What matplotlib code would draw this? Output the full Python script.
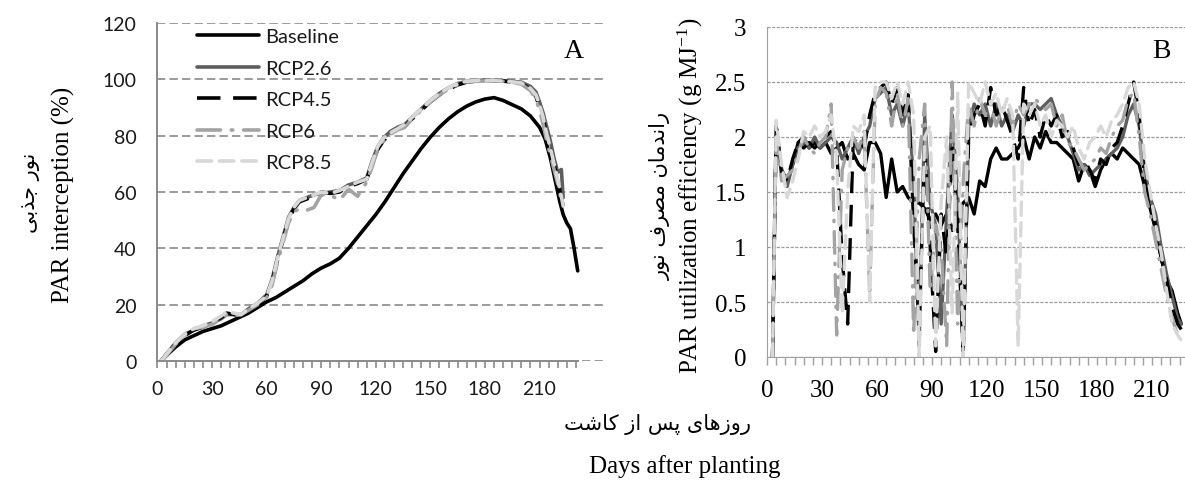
import matplotlib
matplotlib.use('Agg')
import matplotlib.pyplot as plt
from matplotlib.ticker import MultipleLocator, FixedLocator, FuncFormatter

# ---- datos panel A (intercepcion PAR, %) ----
dias_base_a = [2, 5, 10, 15, 20, 25, 30, 35, 40, 45, 50, 55, 60, 65, 70, 75, 80, 85, 90, 95,
               100, 105, 110, 115, 120, 125, 130, 135, 140, 145, 150, 155, 160, 165, 170, 175,
               180, 185, 190, 195, 200, 205, 210, 213, 216, 219, 221, 223, 225, 227, 229, 231]
base_a = [0, 2, 5, 7.5, 9, 10.5, 11.5, 12.5, 14, 15.5, 17, 19, 21, 22.5, 24.5, 26.5, 28.5, 31, 33, 34.5,
          36.5, 40, 44, 48, 52, 56.5, 61.5, 66.5, 71, 75.5, 79.5, 83, 86, 88.5, 90.5, 92,
          93, 93.5, 92.5, 91, 89.5, 87, 83, 79, 72, 63, 57, 52, 49, 47, 40, 32]

dias_rcp_a = [2, 5, 10, 15, 20, 25, 30, 35, 38, 42,
              46, 50, 55, 60, 63, 66, 69, 72, 75, 78,
              82, 86, 90, 95, 100, 105, 110, 115, 118, 121,
              124, 128, 132, 136, 140, 145, 150, 155, 160, 165,
              170, 175, 180, 185, 190, 195, 200, 205, 208, 210,
              212, 214, 216, 218, 220, 222, 223]
rcp26_a = [0, 2.5, 6.5, 9.5, 11, 12.5, 13.5, 15, 16.5, 16.5,
           16.5, 18.5, 20.5, 23.5, 29, 37, 44, 51, 54.5, 57,
           58, 59, 59.5, 60, 60.5, 62.5, 63.5, 65, 71, 76,
           79, 81.5, 83, 84, 86.5, 89.5, 92.5, 95, 97, 98.5,
           99.3, 99.6, 99.7, 99.6, 99.5, 99.3, 99, 97.5, 95.5, 92,
           88, 83, 78, 72, 67, 68, 58]
rcp45_a = [0, 2.5, 6, 9, 11, 12, 13.5, 15.5, 17, 16.5,
           16, 18, 20, 23, 28, 36, 43, 50, 54, 56.5,
           57.5, 58.5, 60, 59.5, 60, 62, 63, 64.5, 70, 75,
           78, 81, 82.5, 83.5, 86, 89, 92, 94.5, 96.5, 98,
           99, 99.4, 99.5, 99.5, 99.4, 99, 98.5, 96.5, 94, 90,
           86, 80, 75, 70, 64, 58, 55]
rcp6_a = [0, 2, 6, 9, 11.5, 12, 13, 15, 16.5, 16,
          16.5, 18, 20, 22.5, 27, 35, 42, 49, 53, 54,
          53.5, 54.5, 59, 59, 57, 61, 58.5, 63.5, 69, 75,
          78, 80.5, 82, 83, 86, 89, 92, 94.5, 96.5, 98,
          99, 99.3, 99.4, 99.4, 99.3, 99, 98.3, 96, 93, 89,
          84, 78, 73, 68, 63, 57, 55]
rcp85_a = [0, 2.5, 6.5, 9.5, 11.5, 12.5, 14, 16, 17.5, 17,
           16.5, 18.5, 20.5, 23, 28.5, 36.5, 43.5, 50.5, 54.5, 57,
           58, 59, 60, 59.5, 60.5, 62, 63.5, 64.5, 70.5, 76,
           79, 81, 82.5, 84, 86.5, 89.5, 92.5, 95, 97, 98.5,
           99.3, 99.6, 99.6, 99.5, 99.4, 99.1, 98.7, 96.8, 94.5, 91,
           86.5, 80.5, 75.5, 70, 64.5, 58.5, 55]

# ---- datos panel B (eficiencia de uso PAR, g MJ-1) ----
dias_b = [3, 5, 8, 11, 14, 17, 20, 23, 26, 29,
          32, 35, 38, 41, 44, 47, 50, 53, 56, 59,
          62, 65, 68, 71, 74, 77, 80, 83, 86, 89,
          92, 95, 98, 101, 104, 107, 110, 113, 116, 119,
          122, 125, 128, 131, 134, 137, 140, 143, 146, 149,
          152, 155, 158, 161, 164, 167, 170, 173, 176, 179,
          182, 185, 188, 191, 194, 197, 200, 203, 206, 209,
          212, 215, 218, 221, 224, 226]
base_b = [0, 2.1, 1.7, 1.6, 1.75, 1.95, 2.0, 1.9, 1.95, 1.9,
          1.95, 1.85, 1.9, 1.95, 1.8, 1.85, 1.75, 1.7, 1.95, 1.95,
          1.85, 1.45, 1.8, 1.5, 1.55, 1.45, 1.4, 1.4, 1.35, 1.25,
          1.3, 1.2, 1.3, 1.15, 1.3, 1.4, 1.45, 1.3, 1.6, 1.55,
          1.8, 1.9, 1.8, 1.8, 1.85, 1.9, 2.0, 1.8, 2.0, 1.9,
          2.05, 1.95, 1.95, 1.9, 1.85, 1.8, 1.6, 1.75, 1.7, 1.55,
          1.7, 1.8, 1.85, 1.8, 1.9, 1.85, 1.8, 1.75, 1.55, 1.35,
          1.15, 0.9, 0.7, 0.6, 0.4, 0.3]
rcp26_b = [0, 2.05, 1.7, 1.55, 1.75, 1.9, 1.95, 1.9, 2.0, 1.9,
           1.95, 2.0, 1.95, 1.8, 1.9, 2.0, 1.85, 2.0, 2.1, 2.35,
           2.4, 2.45, 2.2, 2.3, 2.1, 2.3, 1.6, 0.1, 2.2, 1.4,
           1.2, 0.3, 1.3, 2.2, 1.5, 0.0, 2.1, 2.3, 2.2, 2.3,
           2.1, 2.3, 2.1, 2.2, 2.05, 2.2, 2.1, 2.3, 2.3, 2.25,
           2.3, 2.35, 2.2, 2.1, 2.0, 1.85, 1.7, 1.75, 1.65, 1.7,
           1.75, 1.8, 1.85, 1.9, 2.0, 2.2, 2.3, 2.1, 1.7, 1.45,
           1.3, 1.0, 0.75, 0.55, 0.35, 0.3]
rcp45_b = [0, 2.1, 1.65, 1.6, 1.8, 1.95, 1.9, 1.95, 1.9, 1.95,
           2.0, 2.05, 1.9, 0.9, 0.3, 1.95, 2.0, 1.9, 2.2, 2.4,
           2.45, 2.5, 2.3, 2.45, 2.2, 2.4, 1.2, 0.3, 1.9, 1.0,
           0.05, 1.3, 0.9, 1.9, 1.2, 0.05, 2.0, 2.2, 2.3, 2.1,
           2.45, 2.2, 2.3, 2.15, 2.0, 1.8, 2.45, 2.1, 2.25, 2.0,
           2.2, 2.1, 2.2, 2.0, 2.05, 1.9, 1.75, 1.8, 1.7, 1.6,
           1.8, 1.75, 1.9, 1.95, 2.1, 2.3, 2.5, 2.2, 1.6, 1.4,
           1.2, 0.9, 0.7, 0.45, 0.3, 0.25]
rcp6_b = [0, 2.0, 1.6, 1.65, 1.7, 1.85, 2.0, 1.9, 1.85, 1.95,
          2.0, 2.3, 0.2, 1.7, 1.9, 2.0, 1.9, 2.05, 0.6, 2.3,
          2.45, 2.4, 2.1, 2.4, 2.1, 2.35, 0.2, 1.8, 2.3, 0.6,
          1.2, 1.0, 0.1, 2.5, 0.3, 1.6, 2.3, 2.1, 2.35, 2.2,
          2.3, 2.1, 2.25, 2.3, 2.1, 2.3, 2.2, 2.3, 2.35, 2.3,
          2.25, 2.3, 2.1, 2.2, 1.95, 1.9, 1.8, 1.7, 1.75, 1.8,
          1.9, 1.85, 2.0, 2.1, 2.15, 2.35, 2.4, 2.0, 1.5, 1.3,
          1.05, 0.8, 0.55, 0.35, 0.2, 0.2]
rcp85_b = [0, 2.15, 1.75, 1.45, 1.6, 1.8, 2.05, 2.0, 2.1, 2.0,
           2.05, 2.2, 1.8, 0.4, 1.5, 2.1, 2.05, 2.2, 0.5, 2.45,
           2.5, 2.5, 2.35, 2.5, 2.3, 2.5, 2.2, 0.0, 2.0, 2.1,
           0.1, 1.4, 2.0, 0.4, 2.4, 0.0, 2.5, 2.4, 2.3, 2.5,
           2.3, 2.4, 2.2, 2.35, 2.2, 0.1, 2.3, 2.2, 2.3, 2.1,
           2.2, 2.0, 2.15, 2.1, 2.0, 2.1, 1.9, 1.8, 1.95, 2.0,
           2.1, 2.0, 2.15, 2.2, 2.3, 2.45, 2.5, 2.3, 1.8, 1.5,
           1.2, 0.95, 0.6, 0.3, 0.2, 0.15]

etiquetas = ['Baseline', 'RCP2.6', 'RCP4.5', 'RCP6', 'RCP8.5']
ticks_a = [0, 30, 60, 90, 120, 150, 180, 210]

# ---- textos persas: formas de presentacion + orden visual ----
FORMAS = {
    'ا': ('\uFE8D', '\uFE8E', None, None),
    'ب': ('\uFE8F', '\uFE90', '\uFE91', '\uFE92'),
    'ت': ('\uFE95', '\uFE96', '\uFE97', '\uFE98'),
    'ج': ('\uFE9D', '\uFE9E', '\uFE9F', '\uFEA0'),
    'د': ('\uFEA9', '\uFEAA', None, None),
    'ذ': ('\uFEAB', '\uFEAC', None, None),
    'ر': ('\uFEAD', '\uFEAE', None, None),
    'ز': ('\uFEAF', '\uFEB0', None, None),
    'س': ('\uFEB1', '\uFEB2', '\uFEB3', '\uFEB4'),
    'ش': ('\uFEB5', '\uFEB6', '\uFEB7', '\uFEB8'),
    'ص': ('\uFEB9', '\uFEBA', '\uFEBB', '\uFEBC'),
    'ف': ('\uFED1', '\uFED2', '\uFED3', '\uFED4'),
    'م': ('\uFEE1', '\uFEE2', '\uFEE3', '\uFEE4'),
    'ن': ('\uFEE5', '\uFEE6', '\uFEE7', '\uFEE8'),
    'ه': ('\uFEE9', '\uFEEA', '\uFEEB', '\uFEEC'),
    'و': ('\uFEED', '\uFEEE', None, None),
    'پ': ('\uFB56', '\uFB57', '\uFB58', '\uFB59'),
    'ک': ('\uFB8E', '\uFB8F', '\uFB90', '\uFB91'),
    'ی': ('\uFBFC', '\uFBFD', '\uFBFE', '\uFBFF'),
}


def persa(texto):
    out = []
    for i, ch in enumerate(texto):
        if ch not in FORMAS:
            out.append(ch)
            continue
        prev = texto[i - 1] if i > 0 else ''
        nxt = texto[i + 1] if i + 1 < len(texto) else ''
        une_prev = prev in FORMAS and FORMAS[prev][2] is not None
        une_sig = FORMAS[ch][2] is not None and nxt in FORMAS
        iso, fin, ini, med = FORMAS[ch]
        if une_prev and une_sig:
            out.append(med)
        elif une_prev:
            out.append(fin)
        elif une_sig:
            out.append(ini)
        else:
            out.append(iso)
    return ''.join(reversed(out))


plt.rcParams['mathtext.fontset'] = 'custom'
plt.rcParams['mathtext.rm'] = 'Liberation Serif'
plt.rcParams['mathtext.it'] = 'Liberation Serif:italic'

serif = ['Liberation Serif', 'DejaVu Serif']
fa = ['DejaVu Sans']

# estilos de las series
estilos = [
    dict(color='black', lw=2.6, ls='-'),
    dict(color='#5e5e5e', lw=2.6, ls='-'),
    dict(color='black', lw=2.6, ls=(0, (6.5, 3.5))),
    dict(color='#a3a3a3', lw=2.6, ls=(0, (6.5, 3.0, 0.4, 3.0)), dash_capstyle='round'),
    dict(color='#d8d8d8', lw=2.6, ls=(0, (4.0, 2.2)), dash_capstyle='round'),
]

fig = plt.figure(figsize=(11.85, 4.81), dpi=100)
axA = fig.add_axes([157.5 / 1185, 1 - 362 / 481, 447.5 / 1185, 338 / 481])
axB = fig.add_axes([767 / 1185, 1 - 358 / 481, 418 / 1185, 330 / 481])

# ---------- panel A ----------
series_a = [(dias_base_a, base_a), (dias_rcp_a, rcp26_a), (dias_rcp_a, rcp45_a),
            (dias_rcp_a, rcp6_a), (dias_rcp_a, rcp85_a)]
for (x, y), lab, st in zip(series_a, etiquetas, estilos):
    axA.plot(x, y, label=lab, solid_capstyle='round', **st)

axA.set_xlim(0, 246)
axA.set_ylim(0, 120)
axA.yaxis.set_major_locator(MultipleLocator(20))
axA.xaxis.set_major_locator(FixedLocator(ticks_a))
axA.xaxis.set_minor_locator(FixedLocator(list(range(0, 232, 5))))
axA.grid(True, axis='y', color='#8a8a8a', lw=1.2, ls=(0, (5, 2.5)))
axA.set_axisbelow(True)
for s in ['top', 'right']:
    axA.spines[s].set_visible(False)
axA.spines['left'].set_color('#8a8a8a')
axA.spines['bottom'].set_color('#8a8a8a')
axA.spines['left'].set_linewidth(1.4)
axA.spines['bottom'].set_linewidth(1.4)
axA.spines['bottom'].set_bounds(0, 231)
axA.tick_params(axis='y', length=0, pad=15, labelsize=14, labelcolor='#1a1a1a')
axA.tick_params(axis='x', which='both', direction='out', length=5, width=1.2,
                color='#8a8a8a', pad=9, labelsize=14, labelcolor='#1a1a1a')
for t in axA.get_xticklabels() + axA.get_yticklabels():
    t.set_family('Lato')
ley = axA.legend(loc='upper left', bbox_to_anchor=(0.065, 1.015), frameon=False,
                 prop={'family': 'Lato', 'size': 14.5}, handlelength=3.1,
                 handletextpad=0.3, labelspacing=0.72, borderpad=0)
for t in ley.get_texts():
    t.set_color('#1a1a1a')

# ---------- panel B ----------
series_b = [base_b, rcp26_b, rcp45_b, rcp6_b, rcp85_b]
for y, st in zip(series_b, estilos):
    axB.plot(dias_b, y, solid_capstyle='round', **dict(st, lw=2.4))

axB.set_xlim(0, 228)
axB.set_ylim(0, 3)
axB.yaxis.set_major_locator(MultipleLocator(0.5))
axB.yaxis.set_major_formatter(FuncFormatter(lambda v, p: '{:g}'.format(v)))
axB.xaxis.set_major_locator(MultipleLocator(30))
axB.xaxis.set_minor_locator(MultipleLocator(5))
axB.grid(True, axis='y', color='#9a9a9a', lw=0.9, ls=(0, (2.5, 1.2)))
axB.set_axisbelow(True)
for s in ['top', 'right']:
    axB.spines[s].set_visible(False)
axB.spines['left'].set_color('#a0a0a0')
axB.spines['bottom'].set_color('#a0a0a0')
axB.tick_params(axis='y', length=0, pad=15, labelsize=18)
axB.tick_params(axis='x', which='both', direction='out', length=6, width=1.0,
                color='#a0a0a0', pad=10, labelsize=18)
for t in axB.get_xticklabels() + axB.get_yticklabels():
    t.set_family(serif)

# ---------- textos ----------
fig.text(574 / 1185, 1 - 52 / 481, 'A', fontsize=20, family=serif, ha='center', va='center')
fig.text(1161 / 1185, 1 - 52 / 481, 'B', fontsize=20, family=serif, ha='center', va='center')

fig.text(63 / 1185, 1 - 195 / 481, 'PAR interception (%)', rotation=90, fontsize=18,
         family=serif, ha='center', va='center')
fig.text(30 / 1185, 1 - 193 / 481, persa('نور جذبی'), rotation=90, fontsize=15,
         family=fa, ha='center', va='center')

fig.text(690 / 1185, 1 - 196 / 481, r'PAR utilization efficiency (g MJ$^{\mathregular{-1}}$)',
         rotation=90, fontsize=18, family=serif, ha='center', va='center')
fig.text(660 / 1185, 1 - 196 / 481, persa('راندمان مصرف نور'), rotation=90, fontsize=15,
         family=fa, ha='center', va='center')

fig.text(658 / 1185, 1 - 425 / 481, persa('روزهای پس از کاشت'), fontsize=15,
         family=fa, ha='center', va='center')
fig.text(685 / 1185, 1 - 467 / 481, 'Days after planting', fontsize=18,
         family=serif, ha='center', va='center')

fig.savefig('out.png', dpi=100)
